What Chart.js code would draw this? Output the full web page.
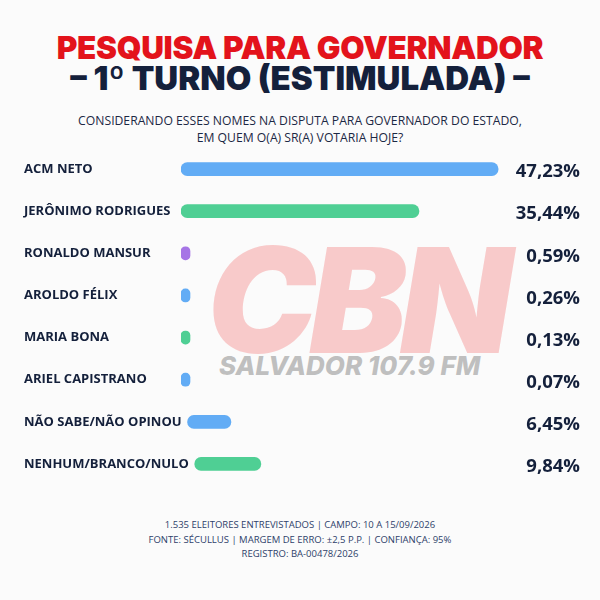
<!DOCTYPE html>
<html lang="pt-BR">
<head>
    <meta charset="UTF-8">
    <title>Pesquisa para governador</title>
    <style>
        body { margin: 0; background: #fbfbfb; }
        #page { position: relative; width: 600px; height: 600px; overflow: hidden; font-family: "Open Sans", sans-serif; }
        .abs { position: absolute; left: 0; width: 600px; text-align: center; white-space: nowrap; }
        #t1 { top: 28px; font-family: Inter, sans-serif; font-weight: 900; font-size: 31.5px; color: #e3131b; letter-spacing: -0.3px; }
        #t2 { top: 58px; font-family: Inter, sans-serif; font-weight: 900; font-size: 33px; color: #14203b; letter-spacing: 0px; }
        #sub { top: 112px; font-size: 12.2px; line-height: 17px; color: #1c2844; }
        #foot { top: 518px; font-size: 9.5px; line-height: 14.5px; color: #2e3f6a; }
        #wm1 { top: 212px; left: 207px; width: auto; font-family: Inter, sans-serif; font-weight: 900; font-style: italic; font-size: 146px; color: rgba(242, 100, 100, 0.32); letter-spacing: -7px; }
        #wm2 { top: 350px; left: 219px; width: auto; font-family: Inter, sans-serif; font-weight: 800; font-style: italic; font-size: 26px; color: rgba(150, 150, 150, 0.6); }
        #chartBox { position: absolute; left: 0; top: 148px; width: 600px; height: 337px; }
    </style>
</head>
<body>
<div id="page">
    <div class="abs" id="wm1">CBN</div>
    <div class="abs" id="wm2">SALVADOR 107.9 FM</div>
    <div class="abs" id="t1">PESQUISA PARA GOVERNADOR</div>
    <div class="abs" id="t2">– 1º TURNO (ESTIMULADA) –</div>
    <div class="abs" id="sub">CONSIDERANDO ESSES NOMES NA DISPUTA PARA GOVERNADOR DO ESTADO,<br>EM QUEM O(A) SR(A) VOTARIA HOJE?</div>
    <div id="chartBox"><canvas id="myChart"></canvas></div>
    <div class="abs" id="foot">1.535 ELEITORES ENTREVISTADOS | CAMPO: 10 A 15/09/2026<br>FONTE: SÉCULLUS | MARGEM DE ERRO: ±2,5 P.P. | CONFIANÇA: 95%<br>REGISTRO: BA-00478/2026</div>
</div>

<script src="https://cdn.jsdelivr.net/npm/chart.js"></script>
<script>
    // dados da pesquisa
    const v_labels = ['ACM NETO', 'JERÔNIMO RODRIGUES', 'RONALDO MANSUR', 'AROLDO FÉLIX', 'MARIA BONA', 'ARIEL CAPISTRANO', 'NÃO SABE/NÃO OPINOU', 'NENHUM/BRANCO/NULO'];
    const v_values = [47.23, 35.44, 0.59, 0.26, 0.13, 0.07, 6.45, 9.84];
    const v_colors = ['#62acf5', '#4fcf94', '#a675e6', '#62acf5', '#4fcf94', '#62acf5', '#62acf5', '#4fcf94'];

    const LABEL_FONT = 'bold 13px "Open Sans"';

    // nomes à esquerda; a barra começa depois do nome quando ele é comprido
    const nameLabels = {
        id: 'nameLabels',
        beforeDatasetsDraw(chart) {
            const c = chart.ctx;
            const yScale = chart.scales.y;
            const meta = chart.getDatasetMeta(0);
            c.save();
            c.font = LABEL_FONT;
            c.fillStyle = '#14203b';
            c.textAlign = 'left';
            c.textBaseline = 'middle';
            meta.data.forEach((bar, i) => {
                let y = yScale.getPixelForValue(i);
                c.fillText(v_labels[i], 24, y);
                let end = 24 + c.measureText(v_labels[i]).width + 6;
                if (end > bar.base) {
                    let d = end - bar.base;
                    bar.base += d;
                    bar.x += d;
                }
            });
            c.restore();
        }
    };

    // valores escritos à direita
    const valueLabels = {
        id: 'valueLabels',
        afterDatasetsDraw(chart) {
            const c = chart.ctx;
            const meta = chart.getDatasetMeta(0);
            c.save();
            c.font = 'bold 18.5px "Open Sans"';
            c.fillStyle = '#14203b';
            c.textAlign = 'right';
            c.textBaseline = 'middle';
            meta.data.forEach((bar, i) => {
                c.fillText(v_values[i].toFixed(2).replace('.', ',') + '%', 580, bar.y + 3);
            });
            c.restore();
        }
    };

    const ctx = document.querySelector('#myChart');
    new Chart(ctx, {
        type: 'bar',
        data: {
            labels: v_labels,
            datasets: [{
                data: v_values,
                backgroundColor: v_colors,
                borderRadius: 20,
                borderSkipped: false,
                barThickness: 13,
                minBarLength: 9
            }]
        },
        plugins: [nameLabels, valueLabels],
        options: {
            indexAxis: 'y',
            responsive: true,
            maintainAspectRatio: false,
            animation: false,
            layout: { padding: { left: 24, right: 90, top: 0, bottom: 0 } },
            plugins: {
                legend: { display: false },
                tooltip: { enabled: false }
            },
            scales: {
                x: {
                    display: false,
                    min: 0,
                    max: 49
                },
                y: {
                    grid: { display: false, drawTicks: false },
                    border: { display: false },
                    afterFit(axis) { axis.width = 157; },
                    ticks: { display: false }
                }
            }
        }
    });
</script>
</body>
</html>
